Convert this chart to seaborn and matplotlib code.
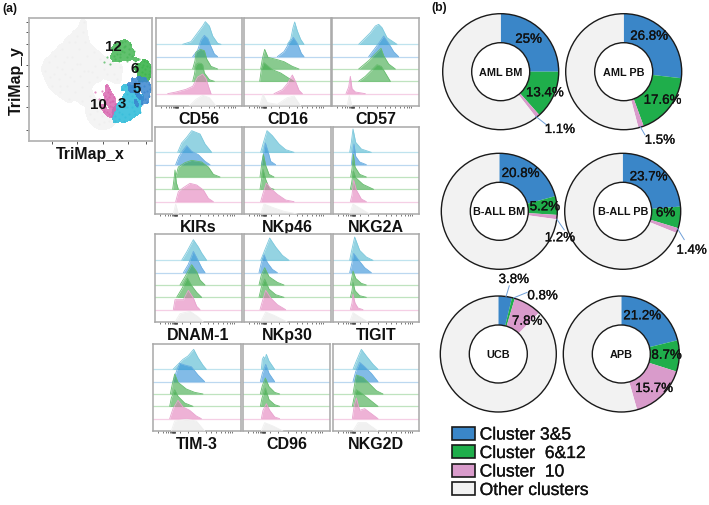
import matplotlib
matplotlib.use("Agg")
import matplotlib.pyplot as plt
import matplotlib.patheffects as pe
from matplotlib.colors import ListedColormap
import seaborn as sns
import pandas as pd
from matplotlib.patches import Circle, Patch

sns.set_theme(style="white")
plt.rcParams["font.family"] = ["Liberation Sans", "DejaVu Sans"]

# ---- scatter clusters: (x, y) ----
grey_pts = [(135,215),(145,190),(150,235),(155,260),(165,170),(170,205),(175,240),(180,280),(185,150),(190,190),
            (195,225),(200,260),(205,130),(205,300),(215,175),(215,210),(220,245),(225,280),(230,110),(235,150),
            (240,195),(240,230),(245,265),(250,70),(248,100),(255,130),(260,170),(262,215),(265,250),(270,290),
            (280,160),(285,200),(290,235),(300,180),(310,210),(325,195),(340,225),(350,240),(270,345),(280,360),
            (290,335),(295,375),(305,350),(310,370),(320,340),(325,365),(335,355),(300,320),(160,225),(185,210),
            (210,235),(230,195),(250,215),(200,175),(180,260),(225,130),(275,220),(320,225),(360,205),(245,305)]
green12_x = [335,345,350,355,360,365,370,375,380,385,390,345,355,365,375,385,350,360,370,380,395,405,320,310,330,400,415,340]
green12_y = [150,135,165,145,175,130,160,140,175,150,135,180,185,155,125,165,150,165,145,185,170,185,175,190,195,155,180,170]
green6_x = [410,415,420,425,430,435,440,445,450,420,430,440,425,435,445,415,428,438,448,405]
green6_y = [215,195,230,205,185,225,200,235,215,245,240,190,220,210,225,235,198,245,205,205]
blue5_x = [385,395,405,415,425,435,445,450,390,400,410,420,430,440,405,420,435,445,425,410,395,440,415,430]
blue5_y = [255,240,250,235,245,240,255,270,275,270,285,265,280,275,305,295,300,290,315,320,265,310,250,260]
cyan3_x = [345,350,355,360,365,370,375,380,385,390,395,400,405,410,415,420,365,375,385,395,405,415,355,380,400,420,370,390,410,345,340,425,375,395]
cyan3_y = [350,330,360,315,345,300,325,285,345,265,310,335,280,320,300,340,270,355,305,290,345,270,340,325,270,315,365,360,305,365,335,295,260,325]
pink10_x = [285,295,305,310,315,320,325,330,335,340,345,320,325,330,335,315,328,322,338,300,318,332,326,335,312,342]
pink10_y = [280,300,275,325,290,340,270,310,325,295,315,300,345,285,340,310,320,280,305,320,260,350,295,305,335,330]

# ---- marker panels: each ridge is (x, height) pairs, top ridge first ----
marker_names = ["CD56","CD16","CD57","KIRs","NKp46","NKG2A","DNAM-1","NKp30","TIGIT","TIM-3","CD96","NKG2D"]
CD56 = [[(80,0),(105,8),(125,35),(140,55),(148,68),(160,55),(170,25),(185,3),(195,0)],
        [(110,0),(125,20),(135,50),(145,64),(155,55),(165,30),(175,8),(185,0)],
        [(110,0),(117,25),(120,50),(133,59),(145,55),(152,30),(165,8),(185,0)],
        [(110,0),(115,20),(120,50),(127,55),(135,54),(140,50),(145,25),(160,5),(175,0)],
        [(35,0),(60,5),(90,13),(110,22),(125,50),(140,59),(150,45),(158,20),(165,0)],
        [(100,0),(120,20),(140,32),(160,25),(180,0)]]
CD16 = [[(130,0),(140,15),(147,50),(152,67),(160,40),(170,15),(180,0)],
        [(100,0),(120,15),(135,40),(148,58),(160,40),(172,10),(180,0)],
        [(50,0),(55,30),(62,59),(72,35),(100,28),(120,22),(145,8),(165,0)],
        [(47,0),(52,35),(60,56),(85,35),(110,25),(130,12),(150,0)],
        [(90,0),(115,12),(130,30),(145,56),(155,35),(165,10),(175,0)],
        [(47,0),(57,35),(70,10),(100,5),(130,25),(150,30),(170,0)]]
CD57 = [[(80,0),(95,15),(115,35),(130,55),(140,60),(150,50),(165,20),(195,0)],
        [(110,0),(125,20),(140,40),(155,62),(170,40),(185,15),(200,0)],
        [(80,0),(110,25),(130,45),(147,62),(155,40),(170,15),(190,0)],
        [(80,0),(100,15),(120,35),(135,50),(148,45),(160,25),(175,0)],
        [(42,0),(50,20),(55,52),(60,15),(70,5),(100,0)],
        [(45,0),(52,32),(60,0)]]
KIRs = [[(68,0),(80,28),(95,45),(110,65),(135,55),(150,25),(170,0)],
        [(62,0),(72,25),(85,45),(95,57),(110,40),(130,30),(150,10),(165,0)],
        [(62,0),(70,30),(90,43),(110,50),(140,45),(160,30),(175,8),(195,0)],
        [(53,0),(57,30),(60,58),(64,20),(70,0)],
        [(62,0),(70,30),(85,42),(105,55),(125,50),(145,35),(160,10),(175,0)],
        [(55,0),(62,30),(70,0)]]
NKp46 = [[(50,0),(57,25),(69,65),(85,50),(105,25),(125,8),(150,0)],
         [(52,0),(58,30),(64,65),(72,40),(80,10),(95,0)],
         [(48,0),(52,30),(58,68),(65,35),(75,8),(90,0)],
         [(48,0),(52,25),(57,60),(65,30),(75,5),(90,0)],
         [(50,0),(57,25),(67,56),(80,40),(100,22),(125,5),(150,0)],
         [(50,0),(60,30),(85,20),(120,8),(160,0)]]
NKG2A = [[(50,0),(55,30),(60,70),(68,30),(85,10),(115,0)],
         [(55,0),(58,30),(63,62),(68,25),(80,8),(100,0)],
         [(53,0),(57,25),(61,68),(66,30),(80,8),(100,0)],
         [(52,0),(56,20),(61,55),(68,35),(90,15),(122,0)],
         [(52,0),(57,20),(62,65),(70,35),(85,8),(100,0)],
         [(50,0),(60,30),(85,15),(110,0)]]
DNAM1 = [[(80,0),(95,25),(115,62),(130,40),(140,22),(155,0)],
         [(85,0),(100,25),(115,64),(125,45),(140,15),(150,0)],
         [(75,0),(90,25),(110,61),(125,40),(135,15),(150,0)],
         [(65,0),(80,25),(97,58),(110,35),(125,15),(140,0)],
         [(55,0),(60,30),(85,30),(100,58),(115,35),(125,10),(135,0)],
         [(60,0),(75,25),(105,32),(130,15),(145,0)]]
NKp30 = [[(50,0),(62,30),(77,67),(95,40),(115,15),(135,0)],
         [(45,0),(52,30),(60,54),(70,30),(85,10),(100,0)],
         [(45,0),(52,30),(62,52),(75,25),(100,8),(120,0)],
         [(45,0),(52,30),(62,55),(75,25),(95,8),(120,0)],
         [(48,0),(55,25),(65,58),(80,35),(100,15),(125,0)],
         [(50,0),(65,30),(90,20),(130,0)]]
TIGIT = [[(50,0),(55,25),(65,70),(80,30),(100,10),(120,0)],
         [(50,0),(57,30),(62,58),(75,40),(95,15),(115,0)],
         [(52,0),(57,25),(60,42),(68,20),(85,5),(100,0)],
         [(52,0),(57,20),(60,45),(66,20),(80,5),(100,0)],
         [(52,0),(57,20),(60,47),(66,20),(75,5),(90,0)],
         [(50,0),(60,28),(80,15),(105,0)]]
TIM3 = [[(60,0),(75,15),(90,30),(105,40),(122,60),(135,35),(150,12),(160,0)],
        [(60,0),(70,30),(80,55),(95,50),(115,45),(135,20),(155,0)],
        [(52,0),(58,30),(65,60),(75,35),(100,15),(125,5),(150,0)],
        [(50,0),(55,25),(65,50),(75,30),(95,10),(120,0)],
        [(50,0),(60,30),(75,55),(90,35),(110,25),(130,8),(145,0)],
        [(55,0),(65,30),(100,35),(130,30),(155,0)]]
CD96 = [[(55,0),(58,30),(62,38),(66,30),(70,45),(78,25),(95,0)],
        [(52,0),(58,25),(68,52),(78,25),(95,0)],
        [(52,0),(58,25),(67,48),(78,22),(95,5),(110,0)],
        [(52,0),(57,25),(67,55),(78,20),(95,5),(110,0)],
        [(55,0),(60,25),(70,45),(80,25),(95,5),(110,0)],
        [(55,0),(65,25),(90,15),(120,0)]]
NKG2D = [[(60,0),(70,25),(85,60),(100,40),(120,15),(135,0)],
         [(60,0),(68,30),(80,58),(95,45),(115,25),(135,0)],
         [(60,0),(65,30),(70,57),(90,50),(110,30),(130,10),(150,0)],
         [(58,0),(63,25),(70,50),(85,40),(110,20),(135,0)],
         [(58,0),(63,35),(70,62),(80,25),(95,30),(115,15),(135,0)],
         [(60,0),(75,25),(100,25),(135,0)]]
marker_ridges = [CD56, CD16, CD57, KIRs, NKp46, NKG2A, DNAM1, NKp30, TIGIT, TIM3, CD96, NKG2D]
ridge_ticks = [15,30,38,45,50,54,57,58,59,60,61,62,63,64,65,66,80,105,135,160,175,190,205,215,225,232,238]

# ---- donuts ----
donut_names = ["AML BM","AML PB","B-ALL BM","B-ALL PB","UCB","APB"]
aml_bm = [25, 13.4, 1.1, 60.5]
aml_pb = [26.8, 17.6, 1.5, 54.1]
ball_bm = [20.8, 5.2, 1.2, 72.8]
ball_pb = [23.7, 6, 1.4, 68.9]
ucb = [3.8, 0.8, 7.8, 87.6]
apb = [21.2, 8.7, 15.7, 54.4]
donut_vals = [aml_bm, aml_pb, ball_bm, ball_pb, ucb, apb]
legend_names = ["Cluster 3&5", "Cluster  6&12", "Cluster  10", "Other clusters"]

# ---- styles / layout (pixels) ----
W, H = 709, 506
pie_cols = ["#3a86c8", "#1fae4b", "#d99bcb", "#f2f2f2"]
ridge_cols = ["#4db6cf", "#2f8fd8", "#3aa845", "#3aa845", "#e37fbb", "#e6e6e6"]
ridge_edge = ["#7cc8dc", "#6aaee0", "#66bb6e", "#66bb6e", "#e8a3cf", "#efefef"]
base_col = ["#bfe3ee", "#bcd8f0", "#bfe3bf", "#bfe3bf", "#f5cfe5", "#ffffff"]

col_px = [[(156,242),(244,331),(332,419)], [(155,242),(244,331),(333,419)],
          [(155,242),(244,331),(333,419)], [(153,241),(243,330),(333,419)]]
row_px = [(19,107),(128,215),(235,323),(345,432)]
donut_px = [(500.7,72.7),(623.7,72.7),(499.3,212.3),(622.7,212.3),(498.3,355),(621.3,355)]
R, r_hole = 58, 29
connectors = [((535.7,117.3),(546.7,126)),((640,127.3),(645,136)),((556.7,220),(564.3,231)),
              ((677.3,229.3),(684.3,240.7)),((506,297.7),(509.3,286.7)),((513.3,299),(527.3,293.3))]
pct_labels = [("25%",528.7,40.7),("13.4%",545,94.3),("1.1%",560,131),
              ("26.8%",649.3,37.7),("17.6%",662.7,101.7),("1.5%",660,141.7),
              ("20.8%",520.7,175),("5.2%",545,208.3),("1.2%",560,239.3),
              ("23.7%",648.7,178.3),("6%",665.7,214.3),("1.4%",691.7,251.7),
              ("3.8%",514,281),("0.8%",542.7,297.3),("7.8%",527.3,322.7),
              ("21.2%",642.3,317.3),("8.7%",666.7,356.7),("15.7%",654.3,390)]
cluster_labels = [("12",113,47),("6",135,69),("5",137,89),("3",122,104),("10",98,105)]
thicken = [pe.withStroke(linewidth=.2, foreground="#111111")]

def axpx(x0, x1, y0, y1):
    return fig.add_axes([x0/W, 1-y1/H, (x1-x0)/W, (y1-y0)/H])

fig = plt.figure(figsize=(W/100, H/100), dpi=100, facecolor="white")

# scatter panel (data units: 3x zoom of the picture)
ax = axpx(28.5, 152, 19, 141.5)
grey_x, grey_y = zip(*grey_pts)
groups = [("#eeeeee", grey_x, grey_y, .45, .12, .6),
          ("#45b655", green12_x, green12_y, .7, .35, .85),
          ("#3cb44c", green6_x, green6_y, .7, .25, .9),
          ("#35bedb", cyan3_x, cyan3_y, .6, .2, .9),
          ("#3a86cf", blue5_x, blue5_y, .55, .35, .85),
          ("#d862ad", pink10_x, pink10_y, .6, .35, .8)]
for c, xs, ys, bw, th, a in groups:
    sns.kdeplot(x=list(xs), y=list(ys), fill=True, cmap=ListedColormap([c, c]), bw_adjust=bw,
                levels=2, thresh=th, alpha=a, linewidths=0, ax=ax)
    sns.scatterplot(x=list(xs), y=list(ys), color=c, s=2.5, alpha=.7, linewidth=0, ax=ax, legend=False)
ax.set_xlim(85, 455); ax.set_ylim(425, 57)
ax.set_xticks([155,230,307,383,437]); ax.set_yticks([70,100,135,197,262,325,392])
ax.set_xticklabels([]); ax.set_yticklabels([])
ax.tick_params(length=2.5, width=.7, color="#555555", bottom=True, left=True, pad=0)
ax.set_xlabel("TriMap_x", fontsize=11.4, fontweight="bold", color="#111111", labelpad=1.5)
ax.set_ylabel("TriMap_y", fontsize=11.4, fontweight="bold", color="#111111", labelpad=1)
for s in ax.spines.values():
    s.set_color("#b5b5b5"); s.set_linewidth(1.3)

# ridge panels
k = 0
for rw, (y0, y1) in enumerate(row_px):
    for cl, (x0, x1) in enumerate(col_px[rw]):
        ax = axpx(x0, x1, y0, y1)
        top = 3*(y1-y0)
        for i, ridge in enumerate(marker_ridges[k]):
            base = (5-i)*37
            df = pd.DataFrame(ridge, columns=["x", "h"])
            df["y"] = df["h"] + base
            ax.axhline(base, color=base_col[i], lw=.9, zorder=1)
            ax.fill_between(df["x"], base, df["y"], color=ridge_cols[i], alpha=.6, lw=0, zorder=2+i)
            sns.lineplot(data=df, x="x", y="y", color=ridge_edge[i], lw=.6, ax=ax, legend=False, zorder=2+i)
        ax.set_xlim(0, 3*(x1-x0)); ax.set_ylim(0, top)
        ax.set_xticks(ridge_ticks); ax.set_yticks([])
        ax.set_xticklabels([])
        ax.tick_params(axis="x", length=1.5, width=.5, color="#444444", bottom=True, pad=0)
        ax.set_ylabel("")
        ax.set_xlabel(marker_names[k], fontsize=11.5, fontweight="bold", color="#111111", labelpad=2)
        for s in ax.spines.values():
            s.set_color("#a8a8a8"); s.set_linewidth(1.1)
        k += 1

# donuts
for (cx, cy), vals, name in zip(donut_px, donut_vals, donut_names):
    ax = axpx(cx-R-2, cx+R+2, cy-R-2, cy+R+2)
    ax.pie(vals, colors=pie_cols, startangle=90, counterclock=False, radius=1,
           wedgeprops=dict(width=1-r_hole/R, linewidth=0))
    ax.add_patch(Circle((0,0), 1, fill=False, ec="#1a1a1a", lw=1))
    ax.add_patch(Circle((0,0), r_hole/R, fc="white", ec="#1a1a1a", lw=1))
    ax.set_xlim(-(R+2)/R, (R+2)/R); ax.set_ylim(-(R+2)/R, (R+2)/R)
    ax.set_aspect("equal"); ax.axis("off")
    ax.text(0, 0, name, ha="center", va="center", fontsize=7.8, fontweight="bold", color="#111111")

# overlay for free text (pixel space)
ov = fig.add_axes([0,0,1,1], facecolor="none")
ov.set_xlim(0, W); ov.set_ylim(H, 0); ov.axis("off")
for (a, b) in connectors:
    ov.plot([a[0], b[0]], [a[1], b[1]], color="#6f9fd8", lw=.7)
for t, x, y in pct_labels:
    ov.text(x, y, t, ha="center", va="center", fontsize=9.6, color="#111111", path_effects=thicken)
for t, x, y in cluster_labels:
    ov.text(x, y, t, ha="center", va="center", fontsize=10.8, fontweight="bold", color="#111111")
ov.text(2.5, 9, "(a)", ha="left", va="center", fontsize=8.8, fontweight="bold", color="#111111")
ov.text(431, 8, "(b)", ha="left", va="center", fontsize=8.8, fontweight="bold", color="#111111")

handles = [Patch(fc=c, ec="#1a1a1a", lw=1.2) for c in pie_cols]
leg = fig.legend(handles, legend_names, loc="upper left", bbox_to_anchor=(452/W, 1-428/H), frameon=False,
           fontsize=12.6, handlelength=1.33, handleheight=.75, handletextpad=.25, labelspacing=.17,
           borderpad=0, borderaxespad=0, labelcolor="#111111")
for t in leg.get_texts():
    t.set_path_effects(thicken)

fig.savefig("out.png", dpi=100)
